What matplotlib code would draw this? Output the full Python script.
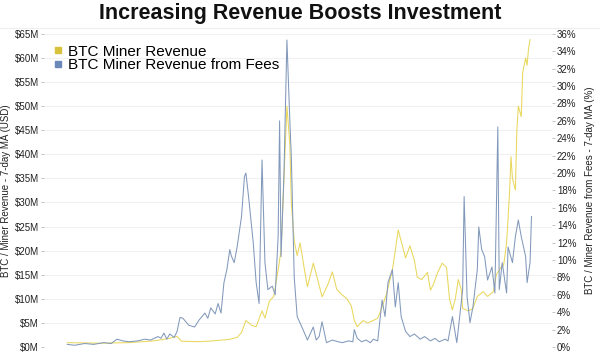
import matplotlib
matplotlib.use("Agg")
import matplotlib.pyplot as plt
from matplotlib.lines import Line2D
import pandas as pd

# -----------------------------------------
# Datos (semanas desde 2015-01-19)
# -----------------------------------------
inicio = pd.Timestamp("2015-01-19")

semanas_ingresos = [0, 22, 42, 60, 70, 75, 78, 90, 101, 111, 116, 119, 122, 126, 129,
                    133, 135, 138, 141, 144, 146, 148, 150, 152, 153, 155, 157, 159,
                    162, 164, 168, 171, 174, 178, 181, 184, 187, 191, 194, 196, 198,
                    202, 205, 209, 212, 214, 218, 222, 224, 226, 228, 231, 234, 237,
                    239, 242, 246, 248, 250, 253, 256, 259, 261, 263, 265, 267, 269,
                    270, 274, 277, 280, 284, 287, 291, 293, 296, 298, 300, 302, 303,
                    304, 306, 307, 308, 310, 311, 313, 314, 315, 316]
ingresos_musd = [0.9, 0.8, 0.9, 1.3, 1.8, 2.2, 1.2, 1.1, 1.3, 1.6, 2.0, 3.0, 5.5, 4.5, 4.2,
                 7.5, 6.0, 9.5, 10.5, 16, 20, 35, 50, 42, 30, 22, 19, 21.6,
                 16, 12.5, 17.4, 14, 10.4, 13, 15.6, 12, 11, 10, 8.5, 5.5, 4.2,
                 5.5, 5, 5.5, 6, 7.5, 11, 16, 20, 24.3, 22, 18.5, 21, 18,
                 14.5, 14, 15.5, 11.8, 13, 15.5, 17.4, 16.5, 10, 7.7, 10, 14, 12,
                 8, 7.5, 8, 10.5, 11.5, 10.5, 11.5, 15, 16.5, 17, 21.6, 32, 39.5,
                 35, 32.6, 45, 50, 47.8, 57, 60, 58.5, 62, 63.8]

semanas_comisiones = [0, 5, 12, 18, 25, 30, 34, 38, 42, 48, 53, 57, 62, 64, 66, 68, 70,
                      73, 75, 77, 79, 83, 87, 90, 94, 96, 98, 101, 103, 105, 107, 109,
                      111, 112, 114, 116, 119, 121, 122, 124, 127, 129, 131, 133, 135,
                      137, 140, 142, 144, 145, 146, 148, 150, 152, 153, 155, 157, 161,
                      164, 168, 170, 172, 174, 177, 181, 185, 188, 192, 195, 196, 198,
                      201, 204, 207, 209, 212, 215, 217, 219, 222, 224, 226, 228, 231,
                      234, 237, 241, 244, 248, 251, 254, 258, 260, 263, 266, 270, 271,
                      273, 275, 277, 280, 281, 283, 285, 287, 290, 292, 294, 295, 297,
                      300, 301, 304, 306, 308, 310, 313, 314, 316, 317]
comisiones_pct = [0.3, 0.2, 0.4, 0.3, 0.5, 0.4, 0.9, 0.7, 0.6, 0.7, 0.9, 0.8, 1.2, 1.0, 1.6, 0.9, 1.5,
                  1.1, 1.8, 3.4, 3.3, 2.5, 2.3, 3.1, 3.9, 3.3, 4.5, 3.8, 5.0, 3.9, 7.4, 8.9,
                  11.2, 10.5, 9.7, 11.5, 15, 19.6, 20, 17, 12, 7.4, 5, 21.5, 9.7,
                  6.6, 7, 6, 12.7, 26, 10.4, 20, 35.3, 26, 21.9, 8, 3.5, 2.0,
                  0.8, 2.3, 0.8, 1.2, 2.9, 0.5, 0.8, 0.6, 0.5, 0.7, 0.6, 2.0, 1.0,
                  0.6, 0.8, 0.5, 0.9, 0.7, 5.4, 3.5, 7.4, 8.9, 4.6, 7.4, 3.5, 1.8,
                  1.2, 1.5, 0.9, 1.2, 0.7, 1.0, 0.6, 0.9, 0.7, 3.5, 0.5, 6.6, 17.3,
                  5.8, 2.8, 4.6, 8.9, 13.8, 11.2, 10.4, 7.7, 9.2, 6.2, 25.3, 6.6, 9.7,
                  6.2, 11.5, 9.7, 12.7, 14.6, 12.7, 10.4, 7.4, 9.7, 15]

ticks_izq = list(range(0, 66, 5))
ticks_der = list(range(0, 37, 2))

fechas_ing = inicio + pd.to_timedelta([s * 7 for s in semanas_ingresos], unit="D")
fechas_com = inicio + pd.to_timedelta([s * 7 for s in semanas_comisiones], unit="D")

# -----------------------------------------
# Figura
# -----------------------------------------
plt.rcParams["font.family"] = ["Liberation Sans", "DejaVu Sans"]

AMARILLO = "#e9d75c"
AZUL = "#8299bb"

fig = plt.figure(figsize=(6, 3.53), dpi=100)
ax = fig.add_axes([0.073, 0.017, 0.847, 0.887])
ax2 = ax.twinx()

ax.plot(fechas_ing, ingresos_musd, color=AMARILLO, lw=0.75, zorder=3)
ax2.plot(fechas_com, comisiones_pct, color=AZUL, lw=0.75, zorder=3)

ax.set_ylim(0, 65)
ax2.set_ylim(0, 36)
ax.set_xlim(inicio - pd.Timedelta(weeks=16), inicio + pd.Timedelta(weeks=331))

ax.set_yticks(ticks_izq)
ax.set_yticklabels([f"${v}M" for v in ticks_izq])
ax2.set_yticks(ticks_der)
ax2.set_yticklabels([f"{v}%" for v in ticks_der])

ax.grid(axis="y", color="#f0f0f0", lw=0.8)
ax.set_xticks([])
ax2.set_xticks([])
for a in (ax, ax2):
    for s in a.spines.values():
        s.set_visible(False)
    a.tick_params(axis="y", length=2.5, width=0.6, color="#bbbbbb",
                  labelsize=7, labelcolor="#222222", pad=1)

ax.set_ylabel("BTC / Miner Revenue - 7-day MA (USD)", fontsize=7, color="#222222", labelpad=3)
ax2.set_ylabel("BTC / Miner Revenue from Fees - 7-day MA (%)", fontsize=7, color="#222222", labelpad=6)

fig.text(0.5, 0.962, "Increasing Revenue Boosts Investment", ha="center", va="center",
         fontsize=15.5, fontweight="bold", color="#111111")
fig.add_artist(Line2D([0, 1], [0.922, 0.922], color="#eeeeee", lw=0.8))

manejadores = [
    Line2D([], [], marker="s", ls="none", color="#d8c23c", markersize=4.5),
    Line2D([], [], marker="s", ls="none", color="#6a88b8", markersize=4.5),
]
ax.legend(manejadores, ["BTC Miner Revenue", "BTC Miner Revenue from Fees"],
          loc="upper left", bbox_to_anchor=(0.0, 0.995), frameon=False,
          fontsize=11, handlelength=0.6, handletextpad=0.4, labelspacing=-0.05,
          borderaxespad=0.2)

fig.savefig("out.png", dpi=100)
